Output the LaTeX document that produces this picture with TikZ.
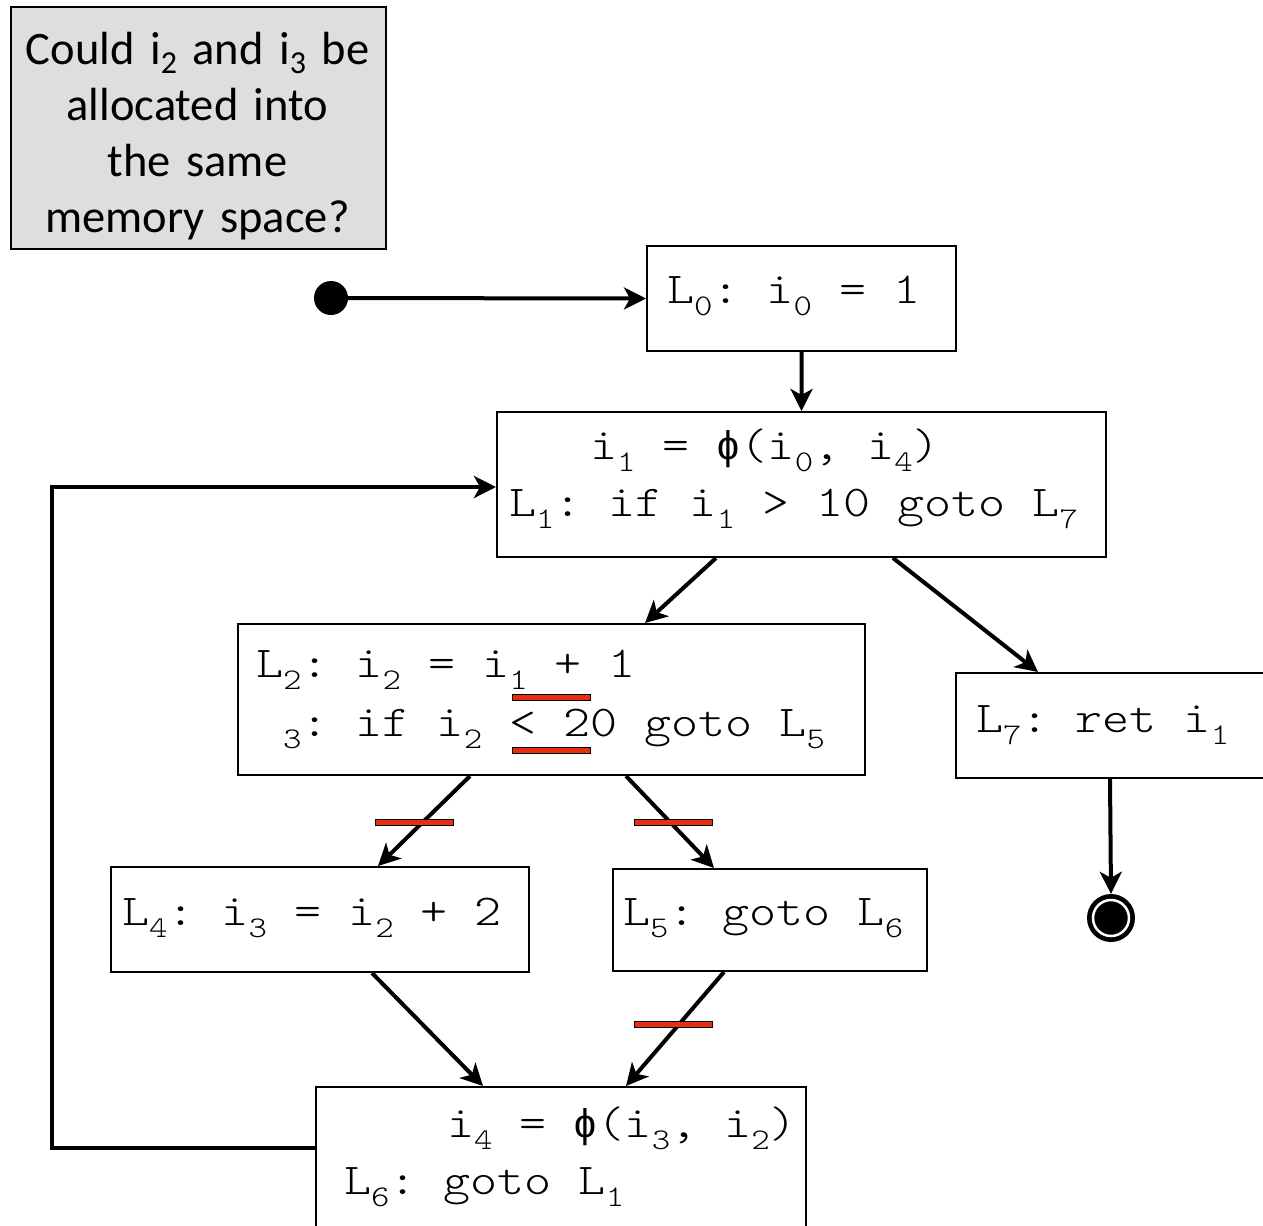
\documentclass[tikz,border=0pt]{standalone}
\usepackage{fontspec}
\setmainfont{Carlito}
\newfontfamily\cour[FakeStretch=1.17]{lmmonolt10-regular.otf}
\newfontfamily\phifont{Liberation Mono}
\usetikzlibrary{arrows.meta}
\definecolor{qgray}{RGB}{222,222,222}
\definecolor{barred}{RGB}{235,45,15}
\newcommand\cs[1]{\raisebox{-12bp}{\fontsize{30bp}{30bp}\selectfont #1}}
\newcommand\qs[1]{\raisebox{-9bp}{\fontsize{32bp}{32bp}\selectfont #1}}
\newcommand\phis{{\phifont\fontsize{40bp}{50bp}\selectfont ϕ}}
\frenchspacing
\begin{document}
\begin{tikzpicture}[x=1bp,y=-1bp,
  box/.style={draw, line width=2bp, anchor=north west, inner sep=0pt},
  code/.style={anchor=base west, inner sep=0pt, font=\cour\fontsize{44bp}{54bp}\selectfont\frenchspacing},
  arr/.style={line width=4bp, -{Stealth[length=22bp,width=22bp,inset=6bp]}},
  redbar/.style={draw, line width=1bp, fill=barred, minimum width=78bp, minimum height=6bp, inner sep=0pt}
]
\useasboundingbox (0,0) rectangle (1263,1226);

% question box
\node[box, fill=qgray, minimum width=375bp, minimum height=242bp] (q) at (10,6) {};
\node[anchor=base, inner sep=0pt, text width=375bp, align=center,
      font=\fontsize{46.5bp}{56bp}\selectfont] (qt) at (197.5,64)
  {Could i\qs{2} and i\qs{3} be\\ allocated into\\ the same\\ memory space?};

% boxes
\node[box, minimum width=309bp, minimum height=105bp] (b0) at (646,245) {};
\node[box, minimum width=609bp, minimum height=145bp] (b1) at (496,411) {};
\node[box, minimum width=627bp, minimum height=151bp] (b2) at (237,623) {};
\node[box, minimum width=330bp, minimum height=105bp] (b7) at (955,672) {};
\node[box, minimum width=418bp, minimum height=105bp] (b4) at (110,866) {};
\node[box, minimum width=314bp, minimum height=102bp] (b5) at (612,868) {};
\node[box, minimum width=490bp, minimum height=160bp] (b6) at (315,1086) {};

% texts
\node[code] (t0) at (667,303) {L\cs{0}: i\cs{0} = 1};
\node[code] (t1a) at (590,459) {i\cs{1} = \phis(i\cs{0}, i\cs{4})};
\node[code] (t1b) at (509,516) {L\cs{1}: if i\cs{1} > 10 goto L\cs{7}};
\node[code] (t2a) at (256,677) {L\cs{2}: i\cs{2} = i\cs{1} + 1};
\node[code] (t2b) at (256,736) {\phantom{L}\cs{3}: if i\cs{2} < 20 goto L\cs{5}};
\node[code] (t7) at (976,732) {L\cs{7}: ret i\cs{1}};
\node[code] (t4) at (122,925) {L\cs{4}: i\cs{3} = i\cs{2} + 2};
\node[code] (t5) at (623,925) {L\cs{5}: goto L\cs{6}};
\node[code] (t6a) at (447,1137) {i\cs{4} = \phis(i\cs{3}, i\cs{2})};
\node[code] (t6b) at (344,1194) {L\cs{6}: goto L\cs{1}};

% start and end
\node[circle, fill=black, minimum size=34bp, inner sep=0pt] (start) at (331,298) {};
\node[circle, fill=black, minimum size=48bp, inner sep=0pt] (stop) at (1111,918) {};
\node[circle, draw=white, line width=2.5bp, minimum size=36bp, inner sep=0pt] (stopring) at (stop.center) {};

% connectors
\draw[arr] (start) -- (b0.west);
\draw[arr] (b0.south) -- (b1.north);
\draw[arr] ([xshift=220bp]b1.south west) -- ([xshift=408bp]b2.north west);
\draw[arr] ([xshift=397bp]b1.south west) -- ([xshift=83bp]b7.north west);
\draw[arr] ([xshift=233bp]b2.south west) -- ([xshift=268bp]b4.north west);
\draw[arr] ([xshift=389bp]b2.south west) -- ([xshift=102bp]b5.north west);
\draw[arr] ([xshift=262bp]b4.south west) -- ([xshift=168bp]b6.north west);
\draw[arr] ([xshift=112bp]b5.south west) -- ([xshift=311bp]b6.north west);
\draw[arr] ([xshift=155bp]b7.south west) -- (stop.north);
\draw[arr] ([yshift=-62bp]b6.north west) -- ++(-263,0) |- ([yshift=-76bp]b1.north west);

% red bars
\node[redbar] (r1) at (551,697) {};
\node[redbar] (r2) at (551,750) {};
\node[redbar] (r3) at (414,822) {};
\node[redbar] (r4) at (673,822) {};
\node[redbar] (r5) at (673,1024) {};
\end{tikzpicture}
\end{document}
